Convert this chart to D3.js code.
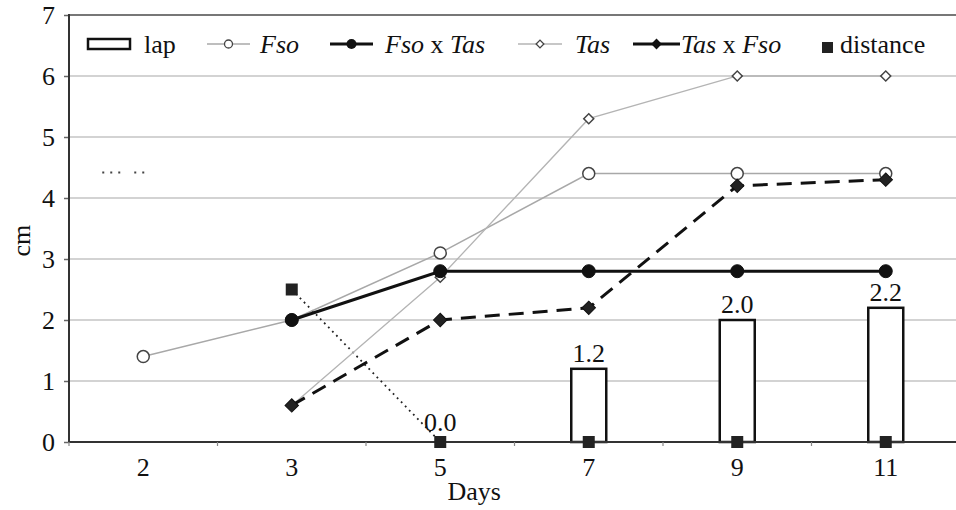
<!DOCTYPE html>
<html>
<head>
<meta charset="utf-8">
<script src="https://cdn.jsdelivr.net/npm/d3@7"></script>
<style>
  body { margin: 0; background: #fff; }
  svg { display: block; }
  text { font-family: "Liberation Serif", "Times New Roman", serif; fill: #111; }
</style>
</head>
<body>
<script>
// Data
var days = ['2', '3', '5', '7', '9', '11'];
var yTicks = [0, 1, 2, 3, 4, 5, 6, 7];

var lap = [null, null, null, 1.2, 2.0, 2.2];
var fso = [1.4, 2.0, 3.1, 4.4, 4.4, 4.4];
var fsoXTas = [null, 2.0, 2.8, 2.8, 2.8, 2.8];
var tas = [null, 0.6, 2.7, 5.3, 6.0, 6.0];
var tasXFso = [null, 0.6, 2.0, 2.2, 4.2, 4.3];
var distance = [null, 2.5, 0.0, 0, 0, 0];

var W = 956, H = 510;
var margin = {left: 69, top: 15, bottom: 68};
var serif = '"Liberation Serif", "Times New Roman", serif';

var svg = d3.select('body').append('svg')
    .attr('width', W).attr('height', H)
    .style('overflow', 'hidden');

var x = d3.scaleBand().domain(days).range([margin.left, margin.left + 6 * 148.5]);
var cx = function(i) { return x(days[i]) + x.bandwidth() / 2; };
var y = d3.scaleLinear().domain([0, 7]).range([H - margin.bottom, margin.top]);

// gridlines
svg.append('g').selectAll('line')
    .data(yTicks.filter(function(d) { return d > 0; }))
    .enter().append('line')
    .attr('x1', margin.left).attr('x2', W)
    .attr('y1', function(d) { return y(d); }).attr('y2', function(d) { return y(d); })
    .style('stroke', function(d) { return d === 7 ? '#777' : '#c4c4c4'; })
    .style('stroke-width', function(d) { return d === 7 ? 2 : 1.5; });

// stray dotted fragment at the left
svg.append('line')
    .attr('x1', cx(0) - 41).attr('x2', cx(0) + 2)
    .attr('y1', y(4.42)).attr('y2', y(4.42))
    .style('stroke', '#444').style('stroke-width', 2)
    .style('stroke-dasharray', '2,6,2,6,2,14,2,6,2,100');

// lap bars
var barW = 35;
var bars = lap.map(function(v, i) { return {v: v, i: i}; }).filter(function(d) { return d.v !== null; });
svg.append('g').selectAll('rect').data(bars).enter().append('rect')
    .attr('x', function(d) { return cx(d.i) - barW / 2; })
    .attr('y', function(d) { return y(d.v); })
    .attr('width', barW)
    .attr('height', function(d) { return y(0) - y(d.v); })
    .style('fill', '#fff').style('stroke', '#111').style('stroke-width', 2.5);
svg.append('g').selectAll('text').data(bars).enter().append('text')
    .attr('x', function(d) { return cx(d.i); })
    .attr('y', function(d) { return y(d.v) - 7; })
    .attr('text-anchor', 'middle')
    .style('font-size', '26px')
    .text(function(d) { return d3.format('.1f')(d.v); });

function pts(arr) {
    return arr.map(function(v, i) { return {v: v, i: i}; }).filter(function(d) { return d.v !== null; });
}
var line = d3.line().x(function(d) { return cx(d.i); }).y(function(d) { return y(d.v); });

// distance: dotted black between first two points, faint dotted along zero after
var dist = pts(distance);
svg.append('path').datum(dist.slice(0, 2)).attr('d', line)
    .style('fill', 'none').style('stroke', '#222').style('stroke-width', 1.8)
    .style('stroke-dasharray', '1.8,4');
svg.append('path').datum(dist.slice(1)).attr('d', line)
    .style('fill', 'none').style('stroke', '#999').style('stroke-width', 1.5)
    .style('stroke-dasharray', '2,3');

svg.append('path').datum(pts(fso)).attr('d', line)
    .style('fill', 'none').style('stroke', '#a8a8a8').style('stroke-width', 1.5);
svg.append('path').datum(pts(tas)).attr('d', line)
    .style('fill', 'none').style('stroke', '#b4b4b4').style('stroke-width', 1.3);
svg.append('path').datum(pts(fsoXTas)).attr('d', line)
    .style('fill', 'none').style('stroke', '#111').style('stroke-width', 3);
svg.append('path').datum(pts(tasXFso)).attr('d', line)
    .style('fill', 'none').style('stroke', '#111').style('stroke-width', 3)
    .style('stroke-dasharray', '15,9');

// axes
var yAxis = svg.append('g').attr('transform', 'translate(' + margin.left + ',0)')
    .call(d3.axisLeft(y).tickValues(yTicks).tickSize(5).tickPadding(9).tickFormat(d3.format('d')));
yAxis.attr('font-family', null);
yAxis.select('.domain').remove();
yAxis.selectAll('line').style('stroke', '#666').style('stroke-width', 1.5);
yAxis.selectAll('text').style('font-size', '26px').style('font-family', serif).style('fill', '#111');
svg.append('line').attr('x1', margin.left).attr('x2', margin.left)
    .attr('y1', y(7) - 1).attr('y2', y(0))
    .style('stroke', '#333').style('stroke-width', 2);

var xAxis = svg.append('g').attr('transform', 'translate(0,' + y(0) + ')')
    .call(d3.axisBottom(x).tickSize(0).tickPadding(16));
xAxis.attr('font-family', null);
xAxis.select('.domain').remove();
xAxis.selectAll('text').style('font-size', '26px').style('font-family', serif).style('fill', '#111');
svg.append('line').attr('x1', margin.left).attr('x2', W)
    .attr('y1', y(0)).attr('y2', y(0))
    .style('stroke', '#333').style('stroke-width', 2);
svg.append('g').selectAll('line').data(days).enter().append('line')
    .attr('x1', function(d) { return x(d); }).attr('x2', function(d) { return x(d); })
    .attr('y1', y(0)).attr('y2', y(0) + 4)
    .style('stroke', '#888').style('stroke-width', 1.2);

// markers
var gm = svg.append('g');
function circles(arr, fill, r) {
    gm.append('g').selectAll('circle').data(pts(arr)).enter().append('circle')
        .attr('cx', function(d) { return cx(d.i); }).attr('cy', function(d) { return y(d.v); })
        .attr('r', r).style('fill', fill).style('stroke', fill === '#fff' ? '#444' : '#111')
        .style('stroke-width', fill === '#fff' ? 1.5 : 1);
}
function diamonds(arr, size, fill) {
    gm.append('g').selectAll('path').data(pts(arr)).enter().append('path')
        .attr('d', d3.symbol().type(d3.symbolSquare).size(size))
        .attr('transform', function(d) {
            return 'translate(' + cx(d.i) + ',' + y(d.v) + ') rotate(45)';
        })
        .style('fill', fill).style('stroke', fill === '#fff' ? '#444' : '#111')
        .style('stroke-width', fill === '#fff' ? 1.5 : 1);
}
circles(fso, '#fff', 6);
diamonds(tas, 50, '#fff');
circles(fsoXTas, '#111', 6.5);
diamonds(tasXFso, 90, '#222');
gm.append('g').selectAll('rect').data(dist).enter().append('rect')
    .attr('x', function(d) { return cx(d.i) - 6; }).attr('y', function(d) { return y(d.v) - 6; })
    .attr('width', 12).attr('height', 12).style('fill', '#222');

// distance value label at day 5
svg.append('text').datum(dist[1])
    .attr('x', function(d) { return cx(d.i); }).attr('y', function(d) { return y(d.v) - 11; })
    .attr('text-anchor', 'middle').style('font-size', '26px')
    .text(function(d) { return d3.format('.1f')(d.v); });

// axis titles
svg.append('text').attr('x', x('5') + x.bandwidth() / 2 + 34).attr('y', 500)
    .attr('text-anchor', 'middle').style('font-size', '26px').text('Days');
svg.append('text').attr('transform', 'translate(30,' + y(3.3) + ') rotate(-90)')
    .attr('text-anchor', 'middle').style('font-size', '26px').text('cm');

// legend
var ly = 44;
var leg = svg.append('g');
leg.append('rect').attr('x', 88).attr('y', ly - 5).attr('width', 42).attr('height', 10)
    .style('fill', '#fff').style('stroke', '#111').style('stroke-width', 2.5);
leg.append('text').attr('x', 144).attr('y', ly + 9).style('font-size', '26px').text('lap');

var legLines = [
    {x: 207, w: 43, stroke: '#a8a8a8', sw: 1.5, mark: 'oc'},
    {x: 330, w: 43, stroke: '#111', sw: 3, mark: 'fc'},
    {x: 518, w: 44, stroke: '#b4b4b4', sw: 1.3, mark: 'od'},
    {x: 633, w: 47, stroke: '#111', sw: 3, mark: 'fd'}
];
legLines.forEach(function(l) {
    leg.append('line').attr('x1', l.x).attr('x2', l.x + l.w).attr('y1', ly).attr('y2', ly)
        .style('stroke', l.stroke).style('stroke-width', l.sw);
    var mx = l.x + l.w / 2;
    if (l.mark === 'oc') leg.append('circle').attr('cx', mx).attr('cy', ly).attr('r', 4).style('fill', '#fff').style('stroke', '#444').style('stroke-width', 1.3);
    if (l.mark === 'fc') leg.append('circle').attr('cx', mx).attr('cy', ly).attr('r', 5).style('fill', '#111');
    if (l.mark === 'od' || l.mark === 'fd') {
        leg.append('path').attr('d', d3.symbol().type(d3.symbolSquare).size(l.mark === 'od' ? 30 : 40)())
            .attr('transform', 'translate(' + mx + ',' + ly + ') rotate(45)')
            .style('fill', l.mark === 'od' ? '#fff' : '#111').style('stroke', l.mark === 'od' ? '#444' : '#111')
            .style('stroke-width', 1.3);
    }
});
function legText(xp, parts) {
    var t = leg.append('text').attr('x', xp).attr('y', ly + 9).style('font-size', '26px');
    parts.forEach(function(p) {
        t.append('tspan').style('font-style', p[1] ? 'italic' : 'normal').text(p[0]);
    });
}
legText(260, [['Fso', true]]);
legText(385, [['Fso', true], [' x ', false], ['Tas', true]]);
legText(575, [['Tas', true]]);
legText(681, [['Tas', true], [' x ', false], ['Fso', true]]);
leg.append('rect').attr('x', 822).attr('y', 42).attr('width', 11).attr('height', 11).style('fill', '#222');
leg.append('text').attr('x', 840).attr('y', ly + 9).style('font-size', '26px').text('distance');
</script>
</body>
</html>
